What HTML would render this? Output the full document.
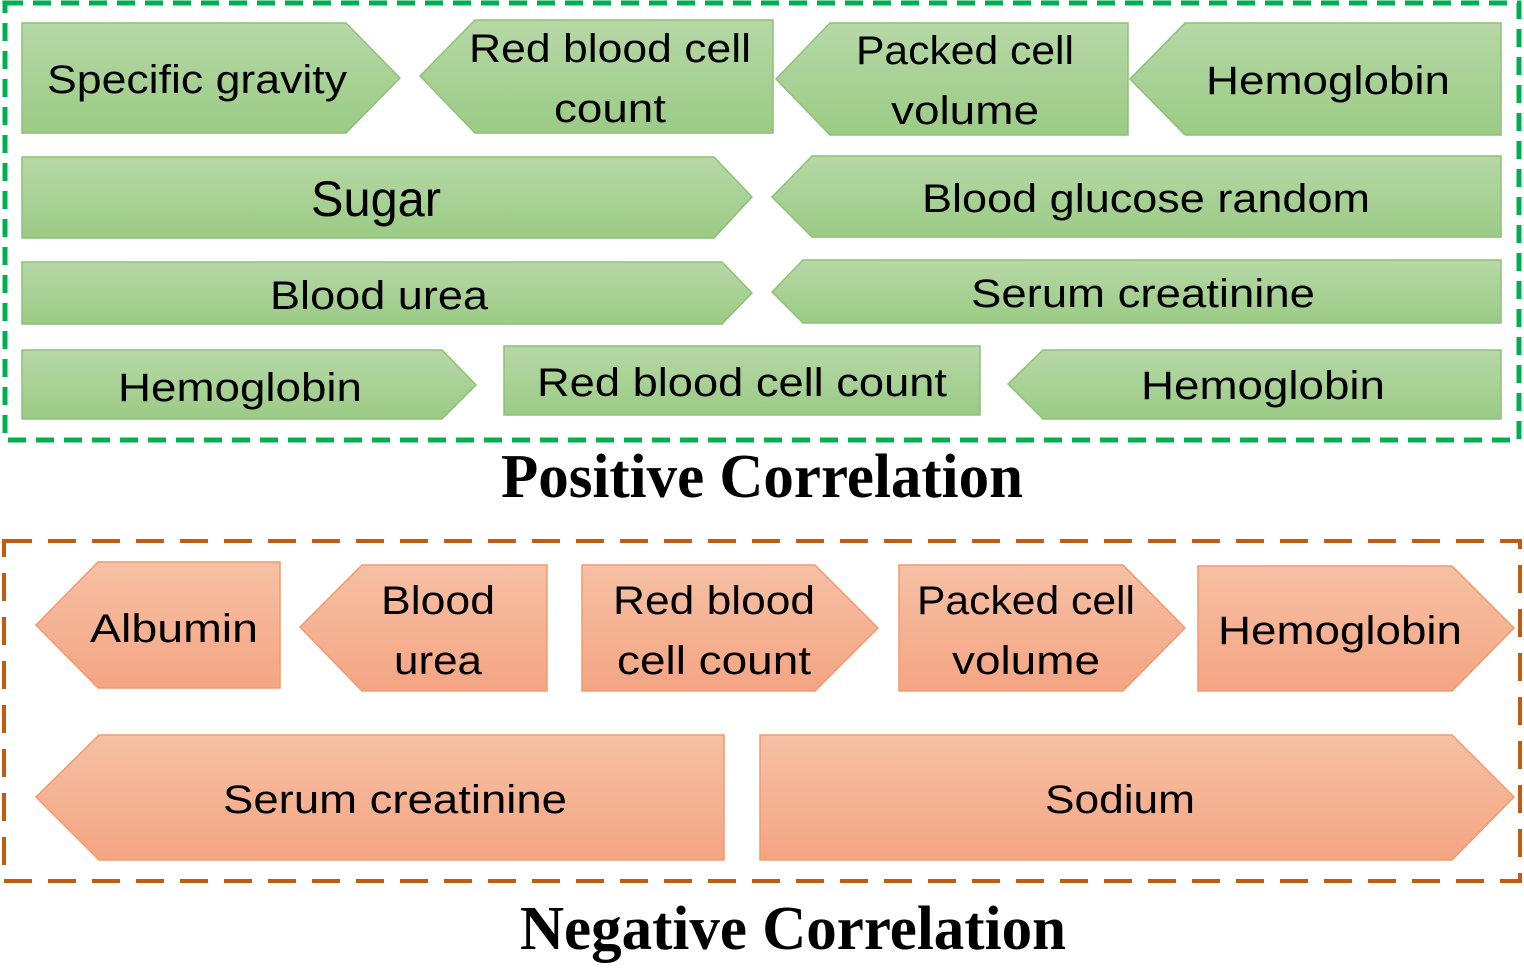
<!DOCTYPE html>
<html><head><meta charset="utf-8"><style>
html,body{margin:0;padding:0;background:#fff;}
svg{display:block;}
text{font-family:"Liberation Sans",sans-serif;fill:#000;}
.t{font-size:40px;}
.h{font-family:"Liberation Serif",serif;font-weight:bold;font-size:62px;}
.g{fill:url(#gg);stroke:#8cc277;stroke-width:1.5;}
.o{fill:url(#og);stroke:#f29a6e;stroke-width:1.5;}
</style></head><body>
<svg width="1524" height="978" viewBox="0 0 1524 978">
<defs>
<linearGradient id="gg" x1="0" y1="0" x2="0" y2="1"><stop offset="0" stop-color="#b6d8a6"/><stop offset="1" stop-color="#9bcb85"/></linearGradient>
<linearGradient id="og" x1="0" y1="0" x2="0" y2="1"><stop offset="0" stop-color="#f6c0a4"/><stop offset="1" stop-color="#f4a583"/></linearGradient>
</defs>
<rect x="5" y="3" width="1514" height="437" fill="none" stroke="#00b050" stroke-width="5" stroke-dasharray="18 10"/>
<rect x="4" y="541" width="1516" height="340" fill="none" stroke="#c55a11" stroke-width="4" stroke-dasharray="28 16"/>

<g>
<polygon class="g" points="22,23 346,23 400,78 346,133 22,133"/>
<polygon class="g" points="420,76 475,20 773,20 773,133 475,133"/>
<polygon class="g" points="776,79 830,23 1128,23 1128,135 830,135"/>
<polygon class="g" points="1130,79 1185,23 1501,23 1501,135 1185,135"/>
<polygon class="g" points="22,157 714,157 752,197 714,238 22,238"/>
<polygon class="g" points="772,197 812,156 1501,156 1501,237 812,237"/>
<polygon class="g" points="22,262 722,262 752,293 722,324 22,324"/>
<polygon class="g" points="772,292 803,260 1501,260 1501,323 803,323"/>
<polygon class="g" points="22,350 442,350 476,385 442,419 22,419"/>
<polygon class="g" points="504,346 980,346 980,415 504,415"/>
<polygon class="g" points="1008,384 1043,350 1501,350 1501,419 1043,419"/>
</g>
<g>
<text class="t" x="197" y="93" text-anchor="middle" textLength="300" lengthAdjust="spacingAndGlyphs">Specific gravity</text>
<text class="t" x="610" y="62" text-anchor="middle" textLength="282" lengthAdjust="spacingAndGlyphs">Red blood cell</text>
<text class="t" x="610" y="122" text-anchor="middle" textLength="112" lengthAdjust="spacingAndGlyphs">count</text>
<text class="t" x="965" y="64" text-anchor="middle" textLength="218" lengthAdjust="spacingAndGlyphs">Packed cell</text>
<text class="t" x="965" y="124" text-anchor="middle" textLength="148" lengthAdjust="spacingAndGlyphs">volume</text>
<text class="t" x="1328" y="94" text-anchor="middle" textLength="244" lengthAdjust="spacingAndGlyphs">Hemoglobin</text>
<text class="t" x="376" y="216" text-anchor="middle" style="font-size:50px" textLength="130" lengthAdjust="spacingAndGlyphs">Sugar</text>
<text class="t" x="1146" y="212" text-anchor="middle" textLength="448" lengthAdjust="spacingAndGlyphs">Blood glucose random</text>
<text class="t" x="379" y="309" text-anchor="middle" textLength="218" lengthAdjust="spacingAndGlyphs">Blood urea</text>
<text class="t" x="1143" y="307" text-anchor="middle" textLength="344" lengthAdjust="spacingAndGlyphs">Serum creatinine</text>
<text class="t" x="240" y="401" text-anchor="middle" textLength="244" lengthAdjust="spacingAndGlyphs">Hemoglobin</text>
<text class="t" x="742" y="396" text-anchor="middle" textLength="410" lengthAdjust="spacingAndGlyphs">Red blood cell count</text>
<text class="t" x="1263" y="399" text-anchor="middle" textLength="244" lengthAdjust="spacingAndGlyphs">Hemoglobin</text>
</g>
<text class="h" x="762" y="497" text-anchor="middle" textLength="522" lengthAdjust="spacingAndGlyphs">Positive Correlation</text>

<g>
<polygon class="o" points="36,625 98,562 280,562 280,688 98,688"/>
<polygon class="o" points="300,627 362,565 547,565 547,691 362,691"/>
<polygon class="o" points="582,565 815,565 878,628 815,691 582,691"/>
<polygon class="o" points="899,565 1123,565 1185,628 1123,691 899,691"/>
<polygon class="o" points="1198,566 1452,566 1514,628 1452,691 1198,691"/>
<polygon class="o" points="36,797 99,735 724,735 724,860 99,860"/>
<polygon class="o" points="760,735 1452,735 1514,797 1452,860 760,860"/>
</g>
<g>
<text class="t" x="174" y="642" text-anchor="middle" textLength="168" lengthAdjust="spacingAndGlyphs">Albumin</text>
<text class="t" x="438" y="614" text-anchor="middle" textLength="114" lengthAdjust="spacingAndGlyphs">Blood</text>
<text class="t" x="438" y="674" text-anchor="middle" textLength="88" lengthAdjust="spacingAndGlyphs">urea</text>
<text class="t" x="714" y="614" text-anchor="middle" textLength="202" lengthAdjust="spacingAndGlyphs">Red blood</text>
<text class="t" x="714" y="674" text-anchor="middle" textLength="194" lengthAdjust="spacingAndGlyphs">cell count</text>
<text class="t" x="1026" y="614" text-anchor="middle" textLength="218" lengthAdjust="spacingAndGlyphs">Packed cell</text>
<text class="t" x="1026" y="674" text-anchor="middle" textLength="148" lengthAdjust="spacingAndGlyphs">volume</text>
<text class="t" x="1340" y="644" text-anchor="middle" textLength="244" lengthAdjust="spacingAndGlyphs">Hemoglobin</text>
<text class="t" x="395" y="813" text-anchor="middle" textLength="344" lengthAdjust="spacingAndGlyphs">Serum creatinine</text>
<text class="t" x="1120" y="813" text-anchor="middle" textLength="150" lengthAdjust="spacingAndGlyphs">Sodium</text>
</g>
<text class="h" x="793" y="949" text-anchor="middle" textLength="546" lengthAdjust="spacingAndGlyphs">Negative Correlation</text>
</svg>
</body></html>
